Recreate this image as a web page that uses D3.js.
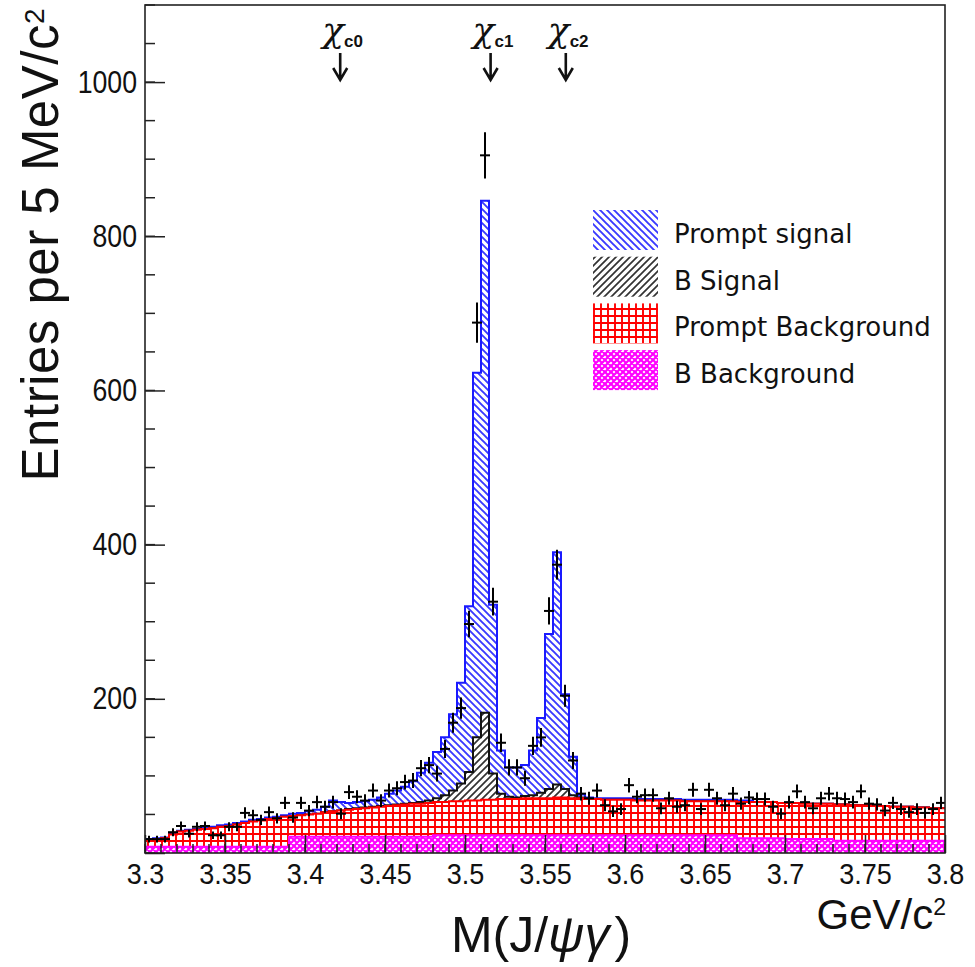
<!DOCTYPE html>
<html>
<head>
<meta charset="utf-8">
<script src="https://cdn.jsdelivr.net/npm/d3@7"></script>
<style>
  body { margin: 0; background: #fff; }
  svg { display: block; }
</style>
</head>
<body>
<svg id="chart" width="975" height="967"></svg>
<script>
// histogram: 100 bins of 5 MeV between 3.3 and 3.8 GeV/c^2
var massLow = 3.3, massHigh = 3.8, binWidth = 0.005;

// stacked components, read bin by bin (entries per bin)
var bBackground = [
  8, 8, 8, 8, 8, 8, 8, 8, 8, 8,
  8, 8, 8, 8, 8, 8, 8, 8, 21, 21,
  21, 21, 21, 21, 21, 21, 21, 21, 21, 21,
  21, 21, 21, 21, 21, 21, 23, 23, 23, 23,
  23, 23, 23, 23, 23, 23, 23, 23, 23, 23,
  23, 23, 23, 23, 23, 23, 23, 23, 23, 23,
  23, 23, 23, 23, 23, 23, 23, 23, 23, 23,
  23, 23, 23, 23, 19, 19, 19, 19, 19, 19,
  18, 18, 18, 18, 18, 18, 16, 16, 16, 16,
  16, 16, 16, 16, 16, 16, 16, 16, 16, 16
];
var promptBackground = [
  9, 10, 11, 16, 20, 21, 22, 23, 24, 26,
  27, 29, 31, 33, 34, 36, 37, 39, 27, 28,
  29, 30, 32, 33, 34, 35, 36, 37, 38, 39,
  40, 41, 42, 43, 43, 44, 43, 43, 44, 44,
  45, 45, 46, 46, 47, 47, 47, 48, 48, 48,
  48, 49, 49, 48, 48, 47, 47, 46, 46, 46,
  46, 45, 45, 45, 45, 45, 45, 44, 44, 44,
  44, 44, 44, 44, 47, 47, 47, 47, 47, 46,
  47, 47, 46, 46, 46, 46, 47, 47, 46, 46,
  46, 45, 45, 44, 44, 44, 43, 43, 42, 42
];
var bSignal = [
  0, 0, 0, 0, 0, 0, 0, 0, 0, 0,
  0, 0, 0, 0, 0, 0, 0, 0, 0, 0,
  0, 0, 0, 0, 0, 1, 1, 1, 1, 1,
  1, 1, 1, 1, 2, 3, 5, 9, 14, 23,
  37, 82, 113, 34, 7, 3, 2, 3, 4, 7,
  12, 17, 11, 4, 1, 0, 0, 0, 0, 0,
  0, 0, 0, 0, 0, 0, 0, 0, 0, 0,
  0, 0, 0, 0, 0, 0, 0, 0, 0, 0,
  0, 0, 0, 0, 0, 0, 0, 0, 0, 0,
  0, 0, 0, 0, 0, 0, 0, 0, 0, 0
];
var promptSignal = [
  1, 1, 1, 2, 1, 1, 1, 2, 2, 2,
  2, 2, 2, 2, 2, 2, 2, 2, 3, 3,
  4, 5, 7, 14, 11, 8, 8, 8, 9, 11,
  15, 18, 22, 28, 38, 49, 60, 75, 99, 131,
  215, 473, 664, 219, 56, 38, 39, 40, 58, 97,
  201, 301, 123, 50, 4, 2, 1, 2, 2, 2,
  2, 2, 2, 2, 2, 2, 2, 2, 2, 2,
  2, 2, 2, 2, 2, 2, 0, 0, 0, 0,
  0, 0, 0, 0, 0, 0, 0, 0, 0, 0,
  0, 0, 0, 0, 0, 0, 0, 0, 0, 0
];
// measured entries (error bars are sqrt(N))
var dataCounts = [
  18, 18, 18, 27, 35, 25, 34, 35, 23, 23,
  34, 34, 52, 49, 43, 53, 45, 65, 46, 65,
  55, 66, 60, 66, 51, 79, 73, 68, 81, 68,
  81, 84, 92, 94, 110, 114, 103, 135, 169, 188,
  297, 688, 905, 326, 143, 111, 111, 97, 139, 150,
  314, 374, 204, 120, 77, 71, 81, 62, 54, 57,
  88, 73, 75, 75, 58, 71, 60, 62, 82, 57,
  82, 71, 62, 77, 64, 72, 70, 70, 60, 51,
  66, 80, 66, 58, 71, 77, 71, 70, 66, 80,
  64, 63, 55, 65, 57, 53, 57, 52, 57, 65
];

var xTicks = [3.3, 3.35, 3.4, 3.45, 3.5, 3.55, 3.6, 3.65, 3.7, 3.75, 3.8];
var xTickLabels = ["3.3", "3.35", "3.4", "3.45", "3.5", "3.55", "3.6", "3.65", "3.7", "3.75", "3.8"];
var yTicks = [0, 200, 400, 600, 800, 1000];
var yTickLabels = ["", "200", "400", "600", "800", "1000"];

var states = ["c0", "c1", "c2"];
var statePositions = [3.422, 3.516, 3.563];

var legendNames = ["Prompt signal", "B Signal", "Prompt Background", "B Background"];

var svg = d3.select("#chart");
var WIDTH = 975, HEIGHT = 967;
var MARGINS = { left: 145, right: 30, top: 5, bottom: 114 };

var x = d3.scaleLinear().domain([massLow, massHigh]).range([MARGINS.left, WIDTH - MARGINS.right]);
var y = d3.scaleLinear().domain([0, 1100]).range([HEIGHT - MARGINS.bottom, MARGINS.top]);

// hatch patterns, fixed to the canvas like ROOT does
var defs = svg.append("defs");
function addPattern(id, size, bg, d, color, width) {
  var p = defs.append("pattern").attr("id", id)
    .attr("patternUnits", "userSpaceOnUse")
    .attr("width", size).attr("height", size);
  p.append("rect").attr("width", size).attr("height", size).attr("fill", bg);
  p.append("path").attr("d", d).attr("stroke", color).attr("stroke-width", width).attr("fill", "none");
}
addPattern("hatchBlue", 7, "#fff", "M-1,-1L8,8M-1,6L1,8M6,-1L8,1", "#3a3aff", 1.9);
addPattern("hatchBlack", 7, "#fff", "M-1,8L8,-1M-1,1L1,-1M6,8L8,6", "#333", 1.7);
addPattern("gridRed", 7, "#fff", "M0,1H7M1,0V7", "#ff0000", 1.9);
addPattern("crossMagenta", 6, "#fff", "M0,0L6,6M0,6L6,0M-1,1L1,-1M5,7L7,5M-1,5L1,7M5,-1L7,1", "#ff00ff", 2.2);

svg.append("clipPath").attr("id", "frameClip")
  .append("rect")
  .attr("x", x(massLow)).attr("y", y(1100))
  .attr("width", x(massHigh) - x(massLow)).attr("height", y(0) - y(1100));

// cumulative stack: B bkg, + prompt bkg, + B signal, + prompt signal
var layers = [
  { values: bBackground, fill: "url(#crossMagenta)", line: "#ff00ff" },
  { values: promptBackground, fill: "url(#gridRed)", line: "#ff0000" },
  { values: bSignal, fill: "url(#hatchBlack)", line: "#111" },
  { values: promptSignal, fill: "url(#hatchBlue)", line: "#1a1aff" }
];
var running = dataCounts.map(function() { return 0; });
layers.forEach(function(l) {
  l.cum = l.values.map(function(v, i) { running[i] += v; return running[i]; });
});

function stepPoints(cum) {
  var pts = cum.map(function(v, i) { return { m: massLow + i * binWidth, v: v }; });
  pts.push({ m: massHigh, v: cum[cum.length - 1] });
  return pts;
}
var area = d3.area().curve(d3.curveStepAfter)
  .x(function(d) { return x(d.m); })
  .y0(y(0))
  .y1(function(d) { return y(d.v); });
var line = d3.line().curve(d3.curveStepAfter)
  .x(function(d) { return x(d.m); })
  .y(function(d) { return y(d.v); });

var plot = svg.append("g").attr("clip-path", "url(#frameClip)");
// draw from the top of the stack down
layers.slice().reverse().forEach(function(l) {
  var pts = stepPoints(l.cum);
  plot.append("path").attr("d", area(pts)).attr("fill", l.fill);
  plot.append("path").attr("d", line(pts)).attr("fill", "none")
    .attr("stroke", l.line).attr("stroke-width", 2);
});

// data points with error bars
var pts = plot.append("g").attr("stroke", "#000").attr("stroke-width", 2);
dataCounts.forEach(function(n, i) {
  var lo = massLow + i * binWidth, c = lo + binWidth / 2, e = Math.sqrt(n);
  pts.append("line").attr("x1", x(c)).attr("x2", x(c)).attr("y1", y(n - e)).attr("y2", y(n + e));
  pts.append("line").attr("x1", x(lo) - 1).attr("x2", x(lo + binWidth) + 1).attr("y1", y(n)).attr("y2", y(n));
});

// squeeze a label to a narrower width, like the condensed ROOT font
function condense(sel, factor) {
  sel.each(function() {
    var w = this.getComputedTextLength();
    if (w > 0) {
      d3.select(this).attr("textLength", w * factor).attr("lengthAdjust", "spacingAndGlyphs");
    }
  });
}

// axes (ticks inside the frame)
var tickFont = "'Liberation Sans', Arial, sans-serif";
var xAxis = d3.axisBottom(x).tickValues(xTicks).tickSize(-18).tickPadding(10)
  .tickFormat(function(d, i) { return xTickLabels[i]; });
var gx = svg.append("g").attr("transform", "translate(0," + y(0) + ")").call(xAxis);
gx.select(".domain").remove();
gx.selectAll("text").attr("font-family", tickFont).attr("font-size", 30).attr("fill", "#111");
condense(gx.selectAll("text"), 0.9);
gx.selectAll("line").attr("stroke", "#222").attr("stroke-width", 1.5);
var xMinor = d3.range(0, 51).map(function(i) { return massLow + i * 0.01; });
svg.append("g").selectAll("line").data(xMinor).join("line")
  .attr("x1", function(d) { return x(d); }).attr("x2", function(d) { return x(d); })
  .attr("y1", y(0)).attr("y2", y(0) - 9)
  .attr("stroke", "#222").attr("stroke-width", 1.5);

var yAxis = d3.axisLeft(y).tickValues(yTicks).tickSize(-20).tickPadding(8)
  .tickFormat(function(d, i) { return yTickLabels[i]; });
var gy = svg.append("g").attr("transform", "translate(" + x(massLow) + ",0)").call(yAxis);
gy.select(".domain").remove();
gy.selectAll("text").attr("font-family", tickFont).attr("font-size", 31).attr("fill", "#111");
condense(gy.selectAll("text"), 0.86);
gy.selectAll("line").attr("stroke", "#222").attr("stroke-width", 1.5);
var yMinor = d3.range(0, 23).map(function(i) { return i * 50; });
svg.append("g").selectAll("line").data(yMinor).join("line")
  .attr("x1", x(massLow)).attr("x2", x(massLow) + 10)
  .attr("y1", function(d) { return y(d); }).attr("y2", function(d) { return y(d); })
  .attr("stroke", "#222").attr("stroke-width", 1.5);

// frame
svg.append("rect")
  .attr("x", x(massLow)).attr("y", y(1100))
  .attr("width", x(massHigh) - x(massLow)).attr("height", y(0) - y(1100))
  .attr("fill", "none").attr("stroke", "#222").attr("stroke-width", 1.6);

// axis titles
var titleFont = "'Liberation Sans', Arial, sans-serif";
var yt = svg.append("text")
  .attr("transform", "translate(58,8) rotate(-90)")
  .attr("text-anchor", "end")
  .attr("font-family", titleFont).attr("font-size", 51).attr("letter-spacing", 0.5).attr("fill", "#111");
yt.append("tspan").text("Entries per 5 MeV/c");
yt.append("tspan").attr("dy", "-0.5em").attr("font-size", 28).text("2");

var xt = svg.append("text").attr("x", 541).attr("y", 952).attr("text-anchor", "middle")
  .attr("font-family", titleFont).attr("font-size", 50).attr("fill", "#111");
xt.append("tspan").text("M(J/");
xt.append("tspan").attr("font-style", "italic").text("ψγ");
xt.append("tspan").attr("dx", 5).text(")");

var ut = svg.append("text").attr("x", 946).attr("y", 929).attr("text-anchor", "end")
  .attr("font-family", titleFont).attr("font-size", 42).attr("fill", "#111");
ut.append("tspan").text("GeV/c");
ut.append("tspan").attr("dy", "-0.6em").attr("font-size", 23).text("2");

// state markers with arrows
states.forEach(function(s, i) {
  var ax = x(statePositions[i]);
  var t = svg.append("text").attr("x", ax - 18).attr("y", 42)
    .attr("font-family", "'DejaVu Serif', serif").attr("fill", "#111");
  t.append("tspan").attr("font-size", 36).attr("font-style", "italic").text("χ");
  t.append("tspan").attr("font-size", 17).attr("font-weight", "bold")
    .attr("font-family", "'Liberation Sans', sans-serif").attr("dy", 5).text(s);
  svg.append("path")
    .attr("d", "M" + ax + ",53V79M" + (ax - 7) + ",68L" + ax + ",80L" + (ax + 7) + ",68")
    .attr("fill", "none").attr("stroke", "#111").attr("stroke-width", 2.6);
});

// legend
var legendFills = ["url(#hatchBlue)", "url(#hatchBlack)", "url(#gridRed)", "url(#crossMagenta)"];
var lg = svg.append("g").attr("transform", "translate(593,210)");
legendNames.forEach(function(name, i) {
  lg.append("rect").attr("x", 0).attr("y", i * 46.7).attr("width", 65).attr("height", 40)
    .attr("fill", legendFills[i]);
  lg.append("text").attr("x", 81).attr("y", i * 46.7 + 33)
    .attr("font-family", "'DejaVu Sans', sans-serif").attr("font-size", 26).attr("fill", "#111")
    .text(name);
});
</script>
</body>
</html>
